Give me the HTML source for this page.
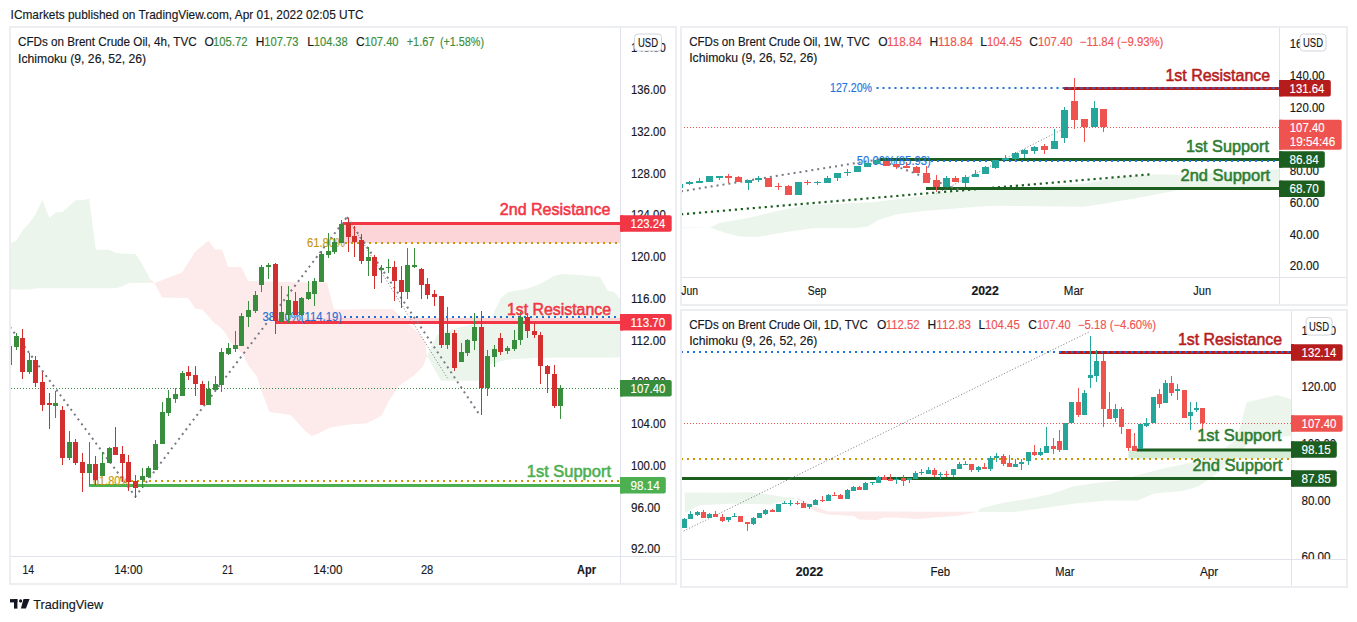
<!DOCTYPE html>
<html><head><meta charset="utf-8"><style>
html,body{margin:0;padding:0;background:#fff;}
svg{display:block;font-family:"Liberation Sans", sans-serif;}
</style></head><body>
<svg width="1357" height="622" viewBox="0 0 1357 622">
<defs>
<clipPath id="cL"><rect x="11" y="28" width="609" height="528"/></clipPath>
<clipPath id="cTR"><rect x="682" y="28" width="597" height="249"/></clipPath>
<clipPath id="cBR"><rect x="682" y="311" width="609" height="248"/></clipPath>
<clipPath id="aL"><rect x="621" y="28" width="54" height="528"/></clipPath>
<clipPath id="aTR"><rect x="1280" y="28" width="66" height="249"/></clipPath>
<clipPath id="aBR"><rect x="1292" y="311" width="54" height="248"/></clipPath>
</defs>
<rect x="0" y="0" width="1357" height="622" fill="#ffffff" />
<rect x="10" y="27" width="666" height="557" fill="none" stroke="#eceef2" stroke-width="2"/>
<line x1="620.5" y1="28" x2="620.5" y2="583" stroke="#e0e3eb" stroke-width="1" />
<line x1="11" y1="556.5" x2="675" y2="556.5" stroke="#e0e3eb" stroke-width="1" />
<rect x="681" y="27" width="666" height="278" fill="none" stroke="#eceef2" stroke-width="2"/>
<line x1="1279.5" y1="28" x2="1279.5" y2="304" stroke="#e0e3eb" stroke-width="1" />
<line x1="682" y1="277.5" x2="1346" y2="277.5" stroke="#e0e3eb" stroke-width="1" />
<rect x="681" y="310" width="666" height="277" fill="none" stroke="#eceef2" stroke-width="2"/>
<line x1="1291.5" y1="311" x2="1291.5" y2="586" stroke="#e0e3eb" stroke-width="1" />
<line x1="682" y1="559.5" x2="1346" y2="559.5" stroke="#e0e3eb" stroke-width="1" />
<g clip-path="url(#cL)">
<polygon points="10,243.9 16.2,240.4 22.4,230.7 29.5,222.7 35.6,213.9 42.4,199.7 49.3,217.9 56.3,212.1 62.5,212.1 69.2,205.9 75.8,200.3 82.5,200.3 89.2,198.8 95.8,249.8 109,249.8 115.6,252.8 122.3,253.7 135.6,254 142.3,264.3 148.8,276.3 149.5,278.5 149.5,282.9 128.9,282.9 122.3,286.4 115.6,288.2 35.6,288.2 29.5,289.4 10,289.4" fill="#ebf5ec" />
<polygon points="149.5,278.5 154.6,283 149.5,283" fill="#fdeaea" />
<polygon points="154.5,283 182,272.6 195,252 208.4,240.5 215,249.5 222,249.5 228,267 241.4,267.2 248,281 327,282.7 334,309.4 393,309 406,322 417,331.5 425.5,342.3 427,356 423,366.5 413.4,376 399,385.7 389.3,400.2 382,414.7 380.7,416.3 366.7,423.3 347,424.8 330,427.6 318.8,433.2 311.8,436 304.8,430.4 290.7,414.9 269.6,412.1 262.5,393.8 257,376.9 248.5,365.7 242.9,354.4 231.6,343.2 224.6,331.9 219.4,326.4 214.3,323 202.5,309.5 195.7,309 188.1,298 162,297.6" fill="#fdeaea" />
<polygon points="427,356 437,335 450,330 473,324 490,322 494,312 501,298 508,292 526,289 540,284 554,276 561,274 580,275 600,277 608,291 614,292 621,300 621,357.6 540,357.8 508,359.5 487,365 478,380.7 441,380.7" fill="#ebf5ec" />
<rect x="343" y="225" width="277" height="18" fill="#fcd5d8" />
<rect x="275" y="318" width="345" height="3" fill="#fcd5d8" />
<rect x="343" y="222" width="277" height="3" fill="#f23645" />
<rect x="275" y="321" width="345" height="3" fill="#f23645" />
<rect x="89" y="484" width="531" height="3" fill="#4caf50" />
<line x1="11" y1="388.5" x2="620" y2="388.5" stroke="#388e3c" stroke-width="1" stroke-dasharray="1 2" />
<line x1="345" y1="243" x2="620" y2="243" stroke="#c8960a" stroke-width="2" stroke-dasharray="2 4" />
<line x1="131" y1="481" x2="620" y2="481" stroke="#c8960a" stroke-width="2" stroke-dasharray="2 4" />
<line x1="344" y1="317" x2="620" y2="317" stroke="#1f6fd6" stroke-width="2" stroke-dasharray="2 4" />
<line x1="10" y1="327" x2="135" y2="496" stroke="#787b86" stroke-width="2" stroke-dasharray="2 4" />
<line x1="135" y1="497" x2="347" y2="217" stroke="#787b86" stroke-width="2" stroke-dasharray="2 4" />
<line x1="347" y1="217" x2="448" y2="379" stroke="#787b86" stroke-width="1" stroke-dasharray="1 2" />
<line x1="347" y1="217" x2="479" y2="414" stroke="#787b86" stroke-width="2" stroke-dasharray="2 4" />
<text x="307" y="247.3" font-size="12" fill="#c8960a" stroke="#c8960a" stroke-width="0.15" textLength="38" lengthAdjust="spacingAndGlyphs" >61.80%</text>
<text x="93" y="485.3" font-size="12" fill="#c8960a" stroke="#c8960a" stroke-width="0.15" textLength="37" lengthAdjust="spacingAndGlyphs" >61.80%</text>
<text x="262.4" y="320.8" font-size="12.3" fill="#1f6fd6" stroke="#1f6fd6" stroke-width="0.15" textLength="79.6" lengthAdjust="spacingAndGlyphs" >38.20%(114.19)</text>
<rect x="9" y="344" width="1" height="22" fill="#388e3c" />
<rect x="7" y="346" width="5" height="19" fill="#388e3c" />
<rect x="16" y="333" width="1" height="17" fill="#388e3c" />
<rect x="14" y="336" width="5" height="11" fill="#388e3c" />
<rect x="22" y="329" width="1" height="50" fill="#d32f2f" />
<rect x="20" y="338" width="5" height="34" fill="#d32f2f" />
<rect x="29" y="353" width="1" height="21" fill="#388e3c" />
<rect x="27" y="360" width="5" height="12" fill="#388e3c" />
<rect x="35" y="356" width="1" height="31" fill="#d32f2f" />
<rect x="33" y="360" width="5" height="23" fill="#d32f2f" />
<rect x="42" y="372" width="1" height="39" fill="#d32f2f" />
<rect x="40" y="382" width="5" height="23" fill="#d32f2f" />
<rect x="49" y="393" width="1" height="36" fill="#d32f2f" />
<rect x="47" y="403" width="5" height="2" fill="#d32f2f" />
<rect x="55" y="391" width="1" height="27" fill="#388e3c" />
<rect x="53" y="403" width="5" height="3" fill="#388e3c" />
<rect x="62" y="406" width="1" height="59" fill="#d32f2f" />
<rect x="60" y="410" width="5" height="48" fill="#d32f2f" />
<rect x="69" y="431" width="1" height="29" fill="#388e3c" />
<rect x="67" y="442" width="5" height="16" fill="#388e3c" />
<rect x="75" y="439" width="1" height="26" fill="#d32f2f" />
<rect x="73" y="442" width="5" height="21" fill="#d32f2f" />
<rect x="82" y="453" width="1" height="39" fill="#d32f2f" />
<rect x="80" y="462" width="5" height="11" fill="#d32f2f" />
<rect x="89" y="442" width="1" height="43" fill="#388e3c" />
<rect x="87" y="464" width="5" height="9" fill="#388e3c" />
<rect x="95" y="456" width="1" height="29" fill="#d32f2f" />
<rect x="93" y="464" width="5" height="16" fill="#d32f2f" />
<rect x="102" y="452" width="1" height="24" fill="#388e3c" />
<rect x="100" y="463" width="5" height="13" fill="#388e3c" />
<rect x="109" y="447" width="1" height="16" fill="#388e3c" />
<rect x="107" y="448" width="5" height="15" fill="#388e3c" />
<rect x="115" y="427" width="1" height="28" fill="#d32f2f" />
<rect x="113" y="447" width="5" height="8" fill="#d32f2f" />
<rect x="122" y="446" width="1" height="36" fill="#d32f2f" />
<rect x="120" y="454" width="5" height="9" fill="#d32f2f" />
<rect x="128" y="455" width="1" height="36" fill="#d32f2f" />
<rect x="126" y="462" width="5" height="20" fill="#d32f2f" />
<rect x="135" y="475" width="1" height="23" fill="#d32f2f" />
<rect x="133" y="481" width="5" height="7" fill="#d32f2f" />
<rect x="142" y="468" width="1" height="20" fill="#388e3c" />
<rect x="140" y="476" width="5" height="4" fill="#388e3c" />
<rect x="148" y="466" width="1" height="12" fill="#388e3c" />
<rect x="146" y="468" width="5" height="9" fill="#388e3c" />
<rect x="155" y="440" width="1" height="30" fill="#388e3c" />
<rect x="153" y="444" width="5" height="26" fill="#388e3c" />
<rect x="162" y="402" width="1" height="42" fill="#388e3c" />
<rect x="160" y="412" width="5" height="32" fill="#388e3c" />
<rect x="168" y="390" width="1" height="26" fill="#388e3c" />
<rect x="166" y="398" width="5" height="15" fill="#388e3c" />
<rect x="175" y="388" width="1" height="15" fill="#388e3c" />
<rect x="173" y="394" width="5" height="5" fill="#388e3c" />
<rect x="182" y="371" width="1" height="25" fill="#388e3c" />
<rect x="180" y="373" width="5" height="23" fill="#388e3c" />
<rect x="188" y="366" width="1" height="14" fill="#d32f2f" />
<rect x="186" y="372" width="5" height="4" fill="#d32f2f" />
<rect x="195" y="366" width="1" height="30" fill="#d32f2f" />
<rect x="193" y="375" width="5" height="9" fill="#d32f2f" />
<rect x="202" y="381" width="1" height="24" fill="#d32f2f" />
<rect x="200" y="384" width="5" height="21" fill="#d32f2f" />
<rect x="208" y="381" width="1" height="24" fill="#388e3c" />
<rect x="206" y="389" width="5" height="16" fill="#388e3c" />
<rect x="215" y="376" width="1" height="14" fill="#388e3c" />
<rect x="213" y="384" width="5" height="6" fill="#388e3c" />
<rect x="221" y="348" width="1" height="44" fill="#388e3c" />
<rect x="219" y="352" width="5" height="33" fill="#388e3c" />
<rect x="228" y="343" width="1" height="12" fill="#388e3c" />
<rect x="226" y="348" width="5" height="6" fill="#388e3c" />
<rect x="235" y="331" width="1" height="21" fill="#388e3c" />
<rect x="233" y="345" width="5" height="4" fill="#388e3c" />
<rect x="241" y="313" width="1" height="33" fill="#388e3c" />
<rect x="239" y="316" width="5" height="30" fill="#388e3c" />
<rect x="248" y="301" width="1" height="26" fill="#388e3c" />
<rect x="246" y="310" width="5" height="7" fill="#388e3c" />
<rect x="255" y="291" width="1" height="22" fill="#388e3c" />
<rect x="253" y="295" width="5" height="16" fill="#388e3c" />
<rect x="261" y="265" width="1" height="27" fill="#388e3c" />
<rect x="259" y="267" width="5" height="18" fill="#388e3c" />
<rect x="268" y="263" width="1" height="16" fill="#388e3c" />
<rect x="266" y="265" width="5" height="2" fill="#388e3c" />
<rect x="275" y="263" width="1" height="71" fill="#d32f2f" />
<rect x="273" y="264" width="5" height="57" fill="#d32f2f" />
<rect x="281" y="286" width="1" height="36" fill="#388e3c" />
<rect x="279" y="312" width="5" height="10" fill="#388e3c" />
<rect x="288" y="286" width="1" height="37" fill="#388e3c" />
<rect x="286" y="300" width="5" height="15" fill="#388e3c" />
<rect x="295" y="292" width="1" height="23" fill="#d32f2f" />
<rect x="293" y="301" width="5" height="14" fill="#d32f2f" />
<rect x="301" y="297" width="1" height="19" fill="#388e3c" />
<rect x="299" y="298" width="5" height="17" fill="#388e3c" />
<rect x="308" y="281" width="1" height="19" fill="#388e3c" />
<rect x="306" y="292" width="5" height="7" fill="#388e3c" />
<rect x="314" y="278" width="1" height="28" fill="#388e3c" />
<rect x="312" y="281" width="5" height="13" fill="#388e3c" />
<rect x="321" y="251" width="1" height="31" fill="#388e3c" />
<rect x="319" y="254" width="5" height="28" fill="#388e3c" />
<rect x="328" y="233" width="1" height="25" fill="#388e3c" />
<rect x="326" y="251" width="5" height="4" fill="#388e3c" />
<rect x="334" y="238" width="1" height="16" fill="#388e3c" />
<rect x="332" y="242" width="5" height="10" fill="#388e3c" />
<rect x="341" y="220" width="1" height="23" fill="#388e3c" />
<rect x="339" y="224" width="5" height="19" fill="#388e3c" />
<rect x="348" y="218" width="1" height="34" fill="#d32f2f" />
<rect x="346" y="223" width="5" height="14" fill="#d32f2f" />
<rect x="354" y="226" width="1" height="31" fill="#d32f2f" />
<rect x="352" y="236" width="5" height="6" fill="#d32f2f" />
<rect x="361" y="234" width="1" height="30" fill="#d32f2f" />
<rect x="359" y="240" width="5" height="21" fill="#d32f2f" />
<rect x="368" y="247" width="1" height="29" fill="#388e3c" />
<rect x="366" y="257" width="5" height="4" fill="#388e3c" />
<rect x="374" y="255" width="1" height="34" fill="#d32f2f" />
<rect x="372" y="257" width="5" height="19" fill="#d32f2f" />
<rect x="381" y="265" width="1" height="18" fill="#388e3c" />
<rect x="379" y="268" width="5" height="2" fill="#388e3c" />
<rect x="388" y="259" width="1" height="14" fill="#388e3c" />
<rect x="386" y="267" width="5" height="1" fill="#388e3c" />
<rect x="394" y="261" width="1" height="40" fill="#d32f2f" />
<rect x="392" y="267" width="5" height="14" fill="#d32f2f" />
<rect x="401" y="266" width="1" height="42" fill="#d32f2f" />
<rect x="399" y="280" width="5" height="12" fill="#d32f2f" />
<rect x="407" y="248" width="1" height="51" fill="#388e3c" />
<rect x="405" y="265" width="5" height="27" fill="#388e3c" />
<rect x="414" y="248" width="1" height="20" fill="#388e3c" />
<rect x="412" y="265" width="5" height="2" fill="#388e3c" />
<rect x="421" y="268" width="1" height="31" fill="#d32f2f" />
<rect x="419" y="269" width="5" height="16" fill="#d32f2f" />
<rect x="427" y="278" width="1" height="21" fill="#d32f2f" />
<rect x="425" y="284" width="5" height="11" fill="#d32f2f" />
<rect x="434" y="290" width="1" height="16" fill="#d32f2f" />
<rect x="432" y="294" width="5" height="3" fill="#d32f2f" />
<rect x="441" y="296" width="1" height="52" fill="#d32f2f" />
<rect x="439" y="296" width="5" height="49" fill="#d32f2f" />
<rect x="447" y="307" width="1" height="42" fill="#388e3c" />
<rect x="445" y="333" width="5" height="12" fill="#388e3c" />
<rect x="454" y="330" width="1" height="41" fill="#d32f2f" />
<rect x="452" y="333" width="5" height="35" fill="#d32f2f" />
<rect x="461" y="343" width="1" height="19" fill="#388e3c" />
<rect x="459" y="352" width="5" height="10" fill="#388e3c" />
<rect x="467" y="339" width="1" height="17" fill="#388e3c" />
<rect x="465" y="340" width="5" height="13" fill="#388e3c" />
<rect x="474" y="313" width="1" height="37" fill="#388e3c" />
<rect x="472" y="327" width="5" height="14" fill="#388e3c" />
<rect x="481" y="311" width="1" height="104" fill="#d32f2f" />
<rect x="479" y="327" width="5" height="61" fill="#d32f2f" />
<rect x="487" y="350" width="1" height="46" fill="#388e3c" />
<rect x="485" y="356" width="5" height="32" fill="#388e3c" />
<rect x="494" y="345" width="1" height="22" fill="#388e3c" />
<rect x="492" y="349" width="5" height="8" fill="#388e3c" />
<rect x="500" y="333" width="1" height="22" fill="#d32f2f" />
<rect x="498" y="338" width="5" height="14" fill="#d32f2f" />
<rect x="507" y="346" width="1" height="8" fill="#388e3c" />
<rect x="505" y="348" width="5" height="3" fill="#388e3c" />
<rect x="514" y="330" width="1" height="21" fill="#388e3c" />
<rect x="512" y="340" width="5" height="9" fill="#388e3c" />
<rect x="520" y="312" width="1" height="33" fill="#388e3c" />
<rect x="518" y="317" width="5" height="23" fill="#388e3c" />
<rect x="527" y="313" width="1" height="25" fill="#d32f2f" />
<rect x="525" y="317" width="5" height="14" fill="#d32f2f" />
<rect x="534" y="323" width="1" height="15" fill="#d32f2f" />
<rect x="532" y="331" width="5" height="4" fill="#d32f2f" />
<rect x="540" y="332" width="1" height="52" fill="#d32f2f" />
<rect x="538" y="335" width="5" height="31" fill="#d32f2f" />
<rect x="547" y="365" width="1" height="28" fill="#d32f2f" />
<rect x="545" y="366" width="5" height="8" fill="#d32f2f" />
<rect x="554" y="365" width="1" height="43" fill="#d32f2f" />
<rect x="552" y="374" width="5" height="32" fill="#d32f2f" />
<rect x="560" y="385" width="1" height="34" fill="#388e3c" />
<rect x="558" y="388" width="5" height="18" fill="#388e3c" />
<text x="499.8" y="214.7" font-size="16" fill="#f23645" stroke="#f23645" stroke-width="0.55" textLength="110.6" lengthAdjust="spacingAndGlyphs" >2nd Resistance</text>
<text x="507" y="315" font-size="16" fill="#f23645" stroke="#f23645" stroke-width="0.55" textLength="104" lengthAdjust="spacingAndGlyphs" >1st Resistance</text>
<text x="526.8" y="477" font-size="16.3" fill="#4caf50" stroke="#4caf50" stroke-width="0.55" textLength="84.2" lengthAdjust="spacingAndGlyphs" >1st Support</text>
</g>
<text x="18" y="45.9" font-size="12" fill="#131722" stroke="#131722" stroke-width="0.15" textLength="178.6" lengthAdjust="spacingAndGlyphs" >CFDs on Brent Crude Oil, 4h, TVC</text>
<text x="204.4" y="45.9" font-size="12" fill="#131722" stroke="#131722" stroke-width="0.15" >O</text>
<text x="213" y="45.9" font-size="12" fill="#388e3c" stroke="#388e3c" stroke-width="0.15" textLength="34.5" lengthAdjust="spacingAndGlyphs" >105.72</text>
<text x="255.7" y="45.9" font-size="12" fill="#131722" stroke="#131722" stroke-width="0.15" >H</text>
<text x="264.3" y="45.9" font-size="12" fill="#388e3c" stroke="#388e3c" stroke-width="0.15" textLength="34.1" lengthAdjust="spacingAndGlyphs" >107.73</text>
<text x="307.2" y="45.9" font-size="12" fill="#131722" stroke="#131722" stroke-width="0.15" >L</text>
<text x="313.8" y="45.9" font-size="12" fill="#388e3c" stroke="#388e3c" stroke-width="0.15" textLength="33.9" lengthAdjust="spacingAndGlyphs" >104.38</text>
<text x="355.9" y="45.9" font-size="12" fill="#131722" stroke="#131722" stroke-width="0.15" >C</text>
<text x="364.5" y="45.9" font-size="12" fill="#388e3c" stroke="#388e3c" stroke-width="0.15" textLength="34" lengthAdjust="spacingAndGlyphs" >107.40</text>
<text x="406.7" y="45.9" font-size="12" fill="#388e3c" stroke="#388e3c" stroke-width="0.15" textLength="27.7" lengthAdjust="spacingAndGlyphs" >+1.67</text>
<text x="439.9" y="45.9" font-size="12" fill="#388e3c" stroke="#388e3c" stroke-width="0.15" textLength="44.2" lengthAdjust="spacingAndGlyphs" >(+1.58%)</text>
<text x="18" y="62.7" font-size="12" fill="#131722" stroke="#131722" stroke-width="0.15" textLength="128.2" lengthAdjust="spacingAndGlyphs" >Ichimoku (9, 26, 52, 26)</text>
<g clip-path="url(#aL)">
<text x="631" y="52.29" font-size="12.5" fill="#131722" stroke="#131722" stroke-width="0.15" textLength="34.7" lengthAdjust="spacingAndGlyphs" >140.00</text>
<text x="631" y="94.05" font-size="12.5" fill="#131722" stroke="#131722" stroke-width="0.15" textLength="34.7" lengthAdjust="spacingAndGlyphs" >136.00</text>
<text x="631" y="135.81" font-size="12.5" fill="#131722" stroke="#131722" stroke-width="0.15" textLength="34.7" lengthAdjust="spacingAndGlyphs" >132.00</text>
<text x="631" y="177.57" font-size="12.5" fill="#131722" stroke="#131722" stroke-width="0.15" textLength="34.7" lengthAdjust="spacingAndGlyphs" >128.00</text>
<text x="631" y="219.33" font-size="12.5" fill="#131722" stroke="#131722" stroke-width="0.15" textLength="34.7" lengthAdjust="spacingAndGlyphs" >124.00</text>
<text x="631" y="261.09" font-size="12.5" fill="#131722" stroke="#131722" stroke-width="0.15" textLength="34.7" lengthAdjust="spacingAndGlyphs" >120.00</text>
<text x="631" y="302.85" font-size="12.5" fill="#131722" stroke="#131722" stroke-width="0.15" textLength="34.7" lengthAdjust="spacingAndGlyphs" >116.00</text>
<text x="631" y="344.61" font-size="12.5" fill="#131722" stroke="#131722" stroke-width="0.15" textLength="34.7" lengthAdjust="spacingAndGlyphs" >112.00</text>
<text x="631" y="386.37" font-size="12.5" fill="#131722" stroke="#131722" stroke-width="0.15" textLength="34.7" lengthAdjust="spacingAndGlyphs" >108.00</text>
<text x="631" y="428.13" font-size="12.5" fill="#131722" stroke="#131722" stroke-width="0.15" textLength="34.7" lengthAdjust="spacingAndGlyphs" >104.00</text>
<text x="631" y="469.89" font-size="12.5" fill="#131722" stroke="#131722" stroke-width="0.15" textLength="34.7" lengthAdjust="spacingAndGlyphs" >100.00</text>
<text x="631" y="511.65" font-size="12.5" fill="#131722" stroke="#131722" stroke-width="0.15" textLength="29.2" lengthAdjust="spacingAndGlyphs" >96.00</text>
<text x="631" y="553.41" font-size="12.5" fill="#131722" stroke="#131722" stroke-width="0.15" textLength="29.2" lengthAdjust="spacingAndGlyphs" >92.00</text>
</g>
<rect x="620" y="215.25" width="51.7" height="16.5" fill="#f23645" rx="2"/>
<rect x="620" y="215.25" width="3" height="16.5" fill="#f23645" />
<text x="630.6" y="227.9" font-size="12.5" fill="#ffffff" stroke="#ffffff" stroke-width="0.15" textLength="34.7" lengthAdjust="spacingAndGlyphs" >123.24</text>
<rect x="620" y="314.05" width="51.7" height="16.5" fill="#f23645" rx="2"/>
<rect x="620" y="314.05" width="3" height="16.5" fill="#f23645" />
<text x="630.6" y="326.7" font-size="12.5" fill="#ffffff" stroke="#ffffff" stroke-width="0.15" textLength="34.7" lengthAdjust="spacingAndGlyphs" >113.70</text>
<rect x="620" y="380.05" width="51.7" height="16.5" fill="#388e3c" rx="2"/>
<rect x="620" y="380.05" width="3" height="16.5" fill="#388e3c" />
<text x="630.6" y="392.7" font-size="12.5" fill="#ffffff" stroke="#ffffff" stroke-width="0.15" textLength="34.7" lengthAdjust="spacingAndGlyphs" >107.40</text>
<rect x="620" y="477.05" width="45.8" height="16.5" fill="#4caf50" rx="2"/>
<rect x="620" y="477.05" width="3" height="16.5" fill="#4caf50" />
<text x="630.6" y="489.7" font-size="12.5" fill="#ffffff" stroke="#ffffff" stroke-width="0.15" textLength="29.2" lengthAdjust="spacingAndGlyphs" >98.14</text>
<text x="22.5" y="574.4" font-size="12" fill="#131722" stroke="#131722" stroke-width="0.15" textLength="11.6" lengthAdjust="spacingAndGlyphs" >14</text>
<text x="114.2" y="574.4" font-size="12" fill="#131722" stroke="#131722" stroke-width="0.15" textLength="28.5" lengthAdjust="spacingAndGlyphs" >14:00</text>
<text x="222.3" y="574.4" font-size="12" fill="#131722" stroke="#131722" stroke-width="0.15" textLength="10.9" lengthAdjust="spacingAndGlyphs" >21</text>
<text x="313.3" y="574.4" font-size="12" fill="#131722" stroke="#131722" stroke-width="0.15" textLength="29.2" lengthAdjust="spacingAndGlyphs" >14:00</text>
<text x="420.9" y="574.4" font-size="12" fill="#131722" stroke="#131722" stroke-width="0.15" textLength="12.4" lengthAdjust="spacingAndGlyphs" >28</text>
<text x="577.1" y="574.4" font-size="12" fill="#131722" stroke="#131722" stroke-width="0.15" textLength="18.9" lengthAdjust="spacingAndGlyphs" font-weight="bold" >Apr</text>
<g clip-path="url(#cTR)">
<polygon points="682,227.6 684.4,227.6 709.8,227.5 719.8,223.1 737.5,219.8 750.8,217.6 772.9,212.1 803.8,205.4 834.8,203.9 874.6,202.1 918.8,196.6 956.4,191.1 980,188.8 1000,188.9 1084,183.6 1117.6,177.3 1157.5,174.2 1178.5,174.8 1210,173.1 1252,172.1 1280,168.9 1280,187.8 1178.5,189.9 1147,196.2 1105,203.6 1084,206.7 1000,205.7 980,206.5 923.2,211 896.7,214.3 879,219.8 867.9,226.4 852.5,228.2 812.7,228.2 786.1,232 757.4,237 739.7,236.6 724.2,232.6 709.8,227.5 684.4,228.2 682,228.2" fill="#ebf5ec" />
<rect x="1064" y="87" width="215" height="3" fill="#b71c1c" />
<rect x="880" y="158" width="399" height="3" fill="#1b5e20" />
<rect x="926" y="187" width="353" height="3" fill="#1b5e20" />
<line x1="681" y1="127.5" x2="1279" y2="127.5" stroke="#ef5350" stroke-width="1" stroke-dasharray="1 2" />
<line x1="876.5" y1="88" x2="1279" y2="88" stroke="#1e73e0" stroke-width="2" stroke-dasharray="2 4" />
<line x1="931" y1="160.9" x2="1279" y2="160.9" stroke="#1e73e0" stroke-width="2" stroke-dasharray="2 4" />
<line x1="681" y1="214.3" x2="1149.7" y2="174.4" stroke="#1b5e20" stroke-width="2.2" stroke-dasharray="2.2 3.8" />
<line x1="681" y1="191.4" x2="878" y2="159.5" stroke="#787b86" stroke-width="2" stroke-dasharray="2 4" />
<line x1="878" y1="159.5" x2="962" y2="191" stroke="#787b86" stroke-width="2" stroke-dasharray="2 4" />
<line x1="936.6" y1="193.5" x2="1062" y2="129.6" stroke="#787b86" stroke-width="1" stroke-dasharray="1 2" />
<text x="830" y="92.3" font-size="12.3" fill="#1e73e0" stroke="#1e73e0" stroke-width="0.15" textLength="42.1" lengthAdjust="spacingAndGlyphs" >127.20%</text>
<text x="856.7" y="164.8" font-size="12.3" fill="#1e73e0" stroke="#1e73e0" stroke-width="0.15" textLength="74.2" lengthAdjust="spacingAndGlyphs" >50.00%(85.93)</text>
<rect x="679" y="183" width="1" height="6" fill="#26a69a" />
<rect x="676" y="184" width="7" height="4" fill="#26a69a" />
<rect x="689" y="181" width="1" height="4" fill="#26a69a" />
<rect x="686" y="182" width="7" height="2" fill="#26a69a" />
<rect x="699" y="178" width="1" height="5" fill="#26a69a" />
<rect x="696" y="181" width="7" height="2" fill="#26a69a" />
<rect x="709" y="176" width="1" height="6" fill="#26a69a" />
<rect x="706" y="176" width="7" height="6" fill="#26a69a" />
<rect x="719" y="176" width="1" height="4" fill="#26a69a" />
<rect x="716" y="176" width="7" height="2" fill="#26a69a" />
<rect x="728" y="174" width="1" height="9" fill="#ef5350" />
<rect x="725" y="176" width="7" height="2" fill="#ef5350" />
<rect x="738" y="176" width="1" height="6" fill="#ef5350" />
<rect x="735" y="177" width="7" height="5" fill="#ef5350" />
<rect x="748" y="180" width="1" height="10" fill="#26a69a" />
<rect x="745" y="180" width="7" height="3" fill="#26a69a" />
<rect x="758" y="176" width="1" height="6" fill="#26a69a" />
<rect x="755" y="178" width="7" height="2" fill="#26a69a" />
<rect x="768" y="178" width="1" height="9" fill="#ef5350" />
<rect x="765" y="178" width="7" height="9" fill="#ef5350" />
<rect x="778" y="183" width="1" height="7" fill="#ef5350" />
<rect x="775" y="186" width="7" height="1" fill="#ef5350" />
<rect x="788" y="185" width="1" height="10" fill="#ef5350" />
<rect x="785" y="186" width="7" height="9" fill="#ef5350" />
<rect x="798" y="182" width="1" height="13" fill="#26a69a" />
<rect x="795" y="182" width="7" height="13" fill="#26a69a" />
<rect x="807" y="180" width="1" height="5" fill="#ef5350" />
<rect x="804" y="182" width="7" height="1" fill="#ef5350" />
<rect x="817" y="181" width="1" height="4" fill="#26a69a" />
<rect x="814" y="182" width="7" height="1" fill="#26a69a" />
<rect x="827" y="176" width="1" height="7" fill="#26a69a" />
<rect x="824" y="178" width="7" height="5" fill="#26a69a" />
<rect x="837" y="173" width="1" height="8" fill="#26a69a" />
<rect x="834" y="173" width="7" height="5" fill="#26a69a" />
<rect x="847" y="169" width="1" height="7" fill="#26a69a" />
<rect x="844" y="172" width="7" height="1" fill="#26a69a" />
<rect x="857" y="166" width="1" height="6" fill="#26a69a" />
<rect x="854" y="166" width="7" height="6" fill="#26a69a" />
<rect x="867" y="163" width="1" height="4" fill="#26a69a" />
<rect x="864" y="163" width="7" height="4" fill="#26a69a" />
<rect x="876" y="160" width="1" height="4" fill="#26a69a" />
<rect x="873" y="160" width="7" height="4" fill="#26a69a" />
<rect x="886" y="161" width="1" height="5" fill="#ef5350" />
<rect x="883" y="161" width="7" height="5" fill="#ef5350" />
<rect x="896" y="164" width="1" height="5" fill="#ef5350" />
<rect x="893" y="164" width="7" height="3" fill="#ef5350" />
<rect x="906" y="162" width="1" height="6" fill="#ef5350" />
<rect x="903" y="166" width="7" height="2" fill="#ef5350" />
<rect x="916" y="166" width="1" height="7" fill="#ef5350" />
<rect x="913" y="167" width="7" height="6" fill="#ef5350" />
<rect x="926" y="166" width="1" height="17" fill="#ef5350" />
<rect x="923" y="173" width="7" height="10" fill="#ef5350" />
<rect x="936" y="175" width="1" height="17" fill="#ef5350" />
<rect x="933" y="180" width="7" height="7" fill="#ef5350" />
<rect x="946" y="176" width="1" height="11" fill="#26a69a" />
<rect x="943" y="178" width="7" height="9" fill="#26a69a" />
<rect x="955" y="176" width="1" height="6" fill="#ef5350" />
<rect x="952" y="178" width="7" height="4" fill="#ef5350" />
<rect x="965" y="175" width="1" height="12" fill="#26a69a" />
<rect x="962" y="177" width="7" height="6" fill="#26a69a" />
<rect x="975" y="170" width="1" height="7" fill="#26a69a" />
<rect x="972" y="174" width="7" height="3" fill="#26a69a" />
<rect x="985" y="166" width="1" height="8" fill="#26a69a" />
<rect x="982" y="167" width="7" height="7" fill="#26a69a" />
<rect x="995" y="160" width="1" height="9" fill="#26a69a" />
<rect x="992" y="160" width="7" height="8" fill="#26a69a" />
<rect x="1005" y="155" width="1" height="5" fill="#26a69a" />
<rect x="1002" y="158" width="7" height="2" fill="#26a69a" />
<rect x="1015" y="152" width="1" height="9" fill="#26a69a" />
<rect x="1012" y="153" width="7" height="6" fill="#26a69a" />
<rect x="1024" y="149" width="1" height="9" fill="#26a69a" />
<rect x="1021" y="150" width="7" height="4" fill="#26a69a" />
<rect x="1034" y="146" width="1" height="8" fill="#26a69a" />
<rect x="1031" y="147" width="7" height="4" fill="#26a69a" />
<rect x="1044" y="144" width="1" height="10" fill="#ef5350" />
<rect x="1041" y="146" width="7" height="4" fill="#ef5350" />
<rect x="1054" y="129" width="1" height="20" fill="#26a69a" />
<rect x="1051" y="141" width="7" height="8" fill="#26a69a" />
<rect x="1064" y="107" width="1" height="36" fill="#26a69a" />
<rect x="1061" y="110" width="7" height="28" fill="#26a69a" />
<rect x="1074" y="78" width="1" height="51" fill="#ef5350" />
<rect x="1071" y="101" width="7" height="19" fill="#ef5350" />
<rect x="1084" y="119" width="1" height="23" fill="#ef5350" />
<rect x="1081" y="119" width="7" height="8" fill="#ef5350" />
<rect x="1094" y="101" width="1" height="26" fill="#26a69a" />
<rect x="1091" y="108" width="7" height="19" fill="#26a69a" />
<rect x="1103" y="109" width="1" height="23" fill="#ef5350" />
<rect x="1100" y="109" width="7" height="18" fill="#ef5350" />
<text x="1165.4" y="81.2" font-size="16.5" fill="#b71c1c" stroke="#b71c1c" stroke-width="0.55" textLength="104.8" lengthAdjust="spacingAndGlyphs" >1st Resistance</text>
<text x="1185.9" y="152.1" font-size="16.5" fill="#2e7d32" stroke="#2e7d32" stroke-width="0.55" textLength="83.1" lengthAdjust="spacingAndGlyphs" >1st Support</text>
<text x="1180.5" y="180.5" font-size="16.5" fill="#2e7d32" stroke="#2e7d32" stroke-width="0.55" textLength="89.7" lengthAdjust="spacingAndGlyphs" >2nd Support</text>
</g>
<text x="689.2" y="45.7" font-size="12" fill="#131722" stroke="#131722" stroke-width="0.15" textLength="180.6" lengthAdjust="spacingAndGlyphs" >CFDs on Brent Crude Oil, 1W, TVC</text>
<text x="878.2" y="45.7" font-size="12" fill="#131722" stroke="#131722" stroke-width="0.15" >O</text>
<text x="887" y="45.7" font-size="12" fill="#ef5350" stroke="#ef5350" stroke-width="0.15" textLength="35" lengthAdjust="spacingAndGlyphs" >118.84</text>
<text x="929.4" y="45.7" font-size="12" fill="#131722" stroke="#131722" stroke-width="0.15" >H</text>
<text x="938" y="45.7" font-size="12" fill="#ef5350" stroke="#ef5350" stroke-width="0.15" textLength="35" lengthAdjust="spacingAndGlyphs" >118.84</text>
<text x="980.3" y="45.7" font-size="12" fill="#131722" stroke="#131722" stroke-width="0.15" >L</text>
<text x="987" y="45.7" font-size="12" fill="#ef5350" stroke="#ef5350" stroke-width="0.15" textLength="34.9" lengthAdjust="spacingAndGlyphs" >104.45</text>
<text x="1029.3" y="45.7" font-size="12" fill="#131722" stroke="#131722" stroke-width="0.15" >C</text>
<text x="1038" y="45.7" font-size="12" fill="#ef5350" stroke="#ef5350" stroke-width="0.15" textLength="34.4" lengthAdjust="spacingAndGlyphs" >107.40</text>
<text x="1079.8" y="45.7" font-size="12" fill="#ef5350" stroke="#ef5350" stroke-width="0.15" textLength="83.6" lengthAdjust="spacingAndGlyphs" >−11.84 (−9.93%)</text>
<text x="689.2" y="61.9" font-size="12" fill="#131722" stroke="#131722" stroke-width="0.15" textLength="128.2" lengthAdjust="spacingAndGlyphs" >Ichimoku (9, 26, 52, 26)</text>
<g clip-path="url(#aTR)">
<text x="1289.8" y="48.1" font-size="12.5" fill="#131722" stroke="#131722" stroke-width="0.15" textLength="34.7" lengthAdjust="spacingAndGlyphs" >160.00</text>
<text x="1289.8" y="79.85" font-size="12.5" fill="#131722" stroke="#131722" stroke-width="0.15" textLength="34.7" lengthAdjust="spacingAndGlyphs" >140.00</text>
<text x="1289.8" y="111.6" font-size="12.5" fill="#131722" stroke="#131722" stroke-width="0.15" textLength="34.7" lengthAdjust="spacingAndGlyphs" >120.00</text>
<text x="1289.8" y="143.35" font-size="12.5" fill="#131722" stroke="#131722" stroke-width="0.15" textLength="34.7" lengthAdjust="spacingAndGlyphs" >100.00</text>
<text x="1289.8" y="175.1" font-size="12.5" fill="#131722" stroke="#131722" stroke-width="0.15" textLength="29.2" lengthAdjust="spacingAndGlyphs" >80.00</text>
<text x="1289.8" y="206.85" font-size="12.5" fill="#131722" stroke="#131722" stroke-width="0.15" textLength="29.2" lengthAdjust="spacingAndGlyphs" >60.00</text>
<text x="1289.8" y="238.6" font-size="12.5" fill="#131722" stroke="#131722" stroke-width="0.15" textLength="29.2" lengthAdjust="spacingAndGlyphs" >40.00</text>
<text x="1289.8" y="270.35" font-size="12.5" fill="#131722" stroke="#131722" stroke-width="0.15" textLength="29.2" lengthAdjust="spacingAndGlyphs" >20.00</text>
</g>
<text x="681.3" y="294.6" font-size="12" fill="#131722" stroke="#131722" stroke-width="0.15" textLength="16.8" lengthAdjust="spacingAndGlyphs" >Jun</text>
<text x="807.8" y="294.6" font-size="12" fill="#131722" stroke="#131722" stroke-width="0.15" textLength="18.5" lengthAdjust="spacingAndGlyphs" >Sep</text>
<text x="971.4" y="294.6" font-size="12" fill="#131722" stroke="#131722" stroke-width="0.15" textLength="27.4" lengthAdjust="spacingAndGlyphs" font-weight="bold" >2022</text>
<text x="1063.8" y="294.6" font-size="12" fill="#131722" stroke="#131722" stroke-width="0.15" textLength="19.9" lengthAdjust="spacingAndGlyphs" >Mar</text>
<text x="1193.3" y="294.6" font-size="12" fill="#131722" stroke="#131722" stroke-width="0.15" textLength="17.7" lengthAdjust="spacingAndGlyphs" >Jun</text>
<rect x="1279" y="79.95" width="51.8" height="16.5" fill="#b71c1c" rx="2"/>
<rect x="1279" y="79.95" width="3" height="16.5" fill="#b71c1c" />
<text x="1289.6" y="92.6" font-size="12.5" fill="#ffffff" stroke="#ffffff" stroke-width="0.15" textLength="34.7" lengthAdjust="spacingAndGlyphs" >131.64</text>
<rect x="1279" y="119.7" width="62.7" height="30" fill="#ef5350" rx="2"/>
<rect x="1279" y="119.7" width="3" height="30" fill="#ef5350" />
<text x="1289.8" y="132" font-size="12.5" fill="#ffffff" stroke="#ffffff" stroke-width="0.15" textLength="34.7" lengthAdjust="spacingAndGlyphs" >107.40</text>
<text x="1289.8" y="145.6" font-size="12.5" fill="#ffffff" stroke="#ffffff" stroke-width="0.15" textLength="45.5" lengthAdjust="spacingAndGlyphs" >19:54:46</text>
<rect x="1279" y="151.25" width="45.8" height="16.5" fill="#1b5e20" rx="2"/>
<rect x="1279" y="151.25" width="3" height="16.5" fill="#1b5e20" />
<text x="1289.6" y="163.9" font-size="12.5" fill="#ffffff" stroke="#ffffff" stroke-width="0.15" textLength="29.2" lengthAdjust="spacingAndGlyphs" >86.84</text>
<rect x="1279" y="180.55" width="45.8" height="16.5" fill="#1b5e20" rx="2"/>
<rect x="1279" y="180.55" width="3" height="16.5" fill="#1b5e20" />
<text x="1289.6" y="193.2" font-size="12.5" fill="#ffffff" stroke="#ffffff" stroke-width="0.15" textLength="29.2" lengthAdjust="spacingAndGlyphs" >68.70</text>
<g clip-path="url(#cBR)">
<polygon points="684.8,492.4 718.6,492.8 750.8,492.2 770,494.7 785.5,497.3 797.1,498 770,504.4 731.5,503.7 703.3,504.9 699.3,505.3 684.8,512.9" fill="#ebf5ec" />
<polygon points="797,497.6 815.4,506.4 827.9,511.6 977.8,511.8 958.3,515.8 934,517.4 917.8,519 896.7,517.4 883.8,517.4 877.3,519.9 858.9,519.6 853.7,516 827.9,514.5 815.4,511.6 797,499" fill="#fdeaea" />
<polygon points="977.8,511.8 980,508.5 1003.2,502.7 1026.4,499.2 1049.6,494.5 1072.9,486.4 1096,483 1119.3,480.6 1142.5,473.7 1165.7,467.9 1188.9,463.2 1212.1,456.2 1223.7,449.3 1235.3,440 1240.6,425.5 1246.4,402.4 1277.3,395 1292,399.5 1292,436.1 1265.7,437.1 1250.3,442.8 1235.3,453.9 1223.7,467.9 1212.1,477.1 1198.2,486.4 1182,491.1 1154.1,493.4 1137.8,500.4 1107.7,500.4 1072.9,503.8 1049.6,507.3 1014.8,512 980,512" fill="#ebf5ec" />
<rect x="1128.5" y="450.5" width="163" height="8" fill="#d5ecd6" />
<rect x="1059" y="351" width="232" height="3" fill="#b71c1c" />
<rect x="1136.7" y="448.5" width="155" height="3" fill="#1b5e20" />
<rect x="681" y="477" width="610" height="3" fill="#1b5e20" />
<line x1="681" y1="423.5" x2="1291" y2="423.5" stroke="#ef5350" stroke-width="1" stroke-dasharray="1 2" />
<line x1="681" y1="352" x2="1291" y2="352" stroke="#1e73e0" stroke-width="2" stroke-dasharray="2 4" />
<line x1="681" y1="459" x2="1291" y2="459" stroke="#c8960a" stroke-width="2" stroke-dasharray="2 4" />
<line x1="681" y1="532.3" x2="1089" y2="332" stroke="#787b86" stroke-width="1" stroke-dasharray="1 2" />
<rect x="684" y="518" width="1" height="10" fill="#26a69a" />
<rect x="682" y="519" width="5" height="9" fill="#26a69a" />
<rect x="690" y="511" width="1" height="8" fill="#26a69a" />
<rect x="688" y="514" width="5" height="5" fill="#26a69a" />
<rect x="697" y="511" width="1" height="5" fill="#26a69a" />
<rect x="695" y="512" width="5" height="3" fill="#26a69a" />
<rect x="703" y="510" width="1" height="8" fill="#ef5350" />
<rect x="701" y="512" width="5" height="6" fill="#ef5350" />
<rect x="709" y="513" width="1" height="5" fill="#26a69a" />
<rect x="707" y="514" width="5" height="4" fill="#26a69a" />
<rect x="715" y="511" width="1" height="6" fill="#ef5350" />
<rect x="713" y="514" width="5" height="3" fill="#ef5350" />
<rect x="722" y="514" width="1" height="8" fill="#ef5350" />
<rect x="720" y="517" width="5" height="4" fill="#ef5350" />
<rect x="728" y="517" width="1" height="5" fill="#26a69a" />
<rect x="726" y="517" width="5" height="3" fill="#26a69a" />
<rect x="734" y="513" width="1" height="4" fill="#26a69a" />
<rect x="732" y="516" width="5" height="1" fill="#26a69a" />
<rect x="740" y="516" width="1" height="6" fill="#ef5350" />
<rect x="738" y="516" width="5" height="6" fill="#ef5350" />
<rect x="747" y="522" width="1" height="9" fill="#ef5350" />
<rect x="745" y="522" width="5" height="2" fill="#ef5350" />
<rect x="753" y="517" width="1" height="8" fill="#26a69a" />
<rect x="751" y="518" width="5" height="6" fill="#26a69a" />
<rect x="759" y="513" width="1" height="5" fill="#26a69a" />
<rect x="757" y="513" width="5" height="5" fill="#26a69a" />
<rect x="765" y="509" width="1" height="6" fill="#26a69a" />
<rect x="763" y="510" width="5" height="4" fill="#26a69a" />
<rect x="772" y="509" width="1" height="3" fill="#ef5350" />
<rect x="770" y="510" width="5" height="2" fill="#ef5350" />
<rect x="778" y="504" width="1" height="8" fill="#26a69a" />
<rect x="776" y="504" width="5" height="8" fill="#26a69a" />
<rect x="784" y="501" width="1" height="3" fill="#26a69a" />
<rect x="782" y="503" width="5" height="1" fill="#26a69a" />
<rect x="790" y="500" width="1" height="6" fill="#26a69a" />
<rect x="788" y="503" width="5" height="1" fill="#26a69a" />
<rect x="797" y="501" width="1" height="4" fill="#ef5350" />
<rect x="795" y="503" width="5" height="1" fill="#ef5350" />
<rect x="803" y="501" width="1" height="7" fill="#ef5350" />
<rect x="801" y="503" width="5" height="5" fill="#ef5350" />
<rect x="809" y="504" width="1" height="5" fill="#26a69a" />
<rect x="807" y="504" width="5" height="3" fill="#26a69a" />
<rect x="815" y="499" width="1" height="6" fill="#26a69a" />
<rect x="813" y="500" width="5" height="5" fill="#26a69a" />
<rect x="822" y="496" width="1" height="6" fill="#ef5350" />
<rect x="820" y="500" width="5" height="1" fill="#ef5350" />
<rect x="828" y="494" width="1" height="7" fill="#26a69a" />
<rect x="826" y="495" width="5" height="6" fill="#26a69a" />
<rect x="834" y="492" width="1" height="4" fill="#ef5350" />
<rect x="832" y="495" width="5" height="1" fill="#ef5350" />
<rect x="840" y="494" width="1" height="5" fill="#ef5350" />
<rect x="838" y="495" width="5" height="4" fill="#ef5350" />
<rect x="847" y="489" width="1" height="10" fill="#26a69a" />
<rect x="845" y="490" width="5" height="9" fill="#26a69a" />
<rect x="853" y="486" width="1" height="5" fill="#26a69a" />
<rect x="851" y="487" width="5" height="4" fill="#26a69a" />
<rect x="859" y="486" width="1" height="4" fill="#ef5350" />
<rect x="857" y="487" width="5" height="3" fill="#ef5350" />
<rect x="865" y="482" width="1" height="8" fill="#26a69a" />
<rect x="863" y="483" width="5" height="7" fill="#26a69a" />
<rect x="872" y="482" width="1" height="3" fill="#26a69a" />
<rect x="870" y="482" width="5" height="1" fill="#26a69a" />
<rect x="878" y="476" width="1" height="7" fill="#26a69a" />
<rect x="876" y="477" width="5" height="6" fill="#26a69a" />
<rect x="884" y="475" width="1" height="5" fill="#ef5350" />
<rect x="882" y="477" width="5" height="3" fill="#ef5350" />
<rect x="890" y="474" width="1" height="7" fill="#ef5350" />
<rect x="888" y="479" width="5" height="2" fill="#ef5350" />
<rect x="896" y="477" width="1" height="7" fill="#26a69a" />
<rect x="894" y="479" width="5" height="1" fill="#26a69a" />
<rect x="903" y="475" width="1" height="11" fill="#ef5350" />
<rect x="901" y="478" width="5" height="3" fill="#ef5350" />
<rect x="909" y="478" width="1" height="5" fill="#26a69a" />
<rect x="907" y="478" width="5" height="2" fill="#26a69a" />
<rect x="915" y="471" width="1" height="8" fill="#26a69a" />
<rect x="913" y="473" width="5" height="6" fill="#26a69a" />
<rect x="921" y="469" width="1" height="6" fill="#26a69a" />
<rect x="919" y="472" width="5" height="1" fill="#26a69a" />
<rect x="928" y="467" width="1" height="7" fill="#26a69a" />
<rect x="926" y="470" width="5" height="4" fill="#26a69a" />
<rect x="934" y="468" width="1" height="9" fill="#ef5350" />
<rect x="932" y="470" width="5" height="5" fill="#ef5350" />
<rect x="940" y="472" width="1" height="7" fill="#26a69a" />
<rect x="938" y="474" width="5" height="1" fill="#26a69a" />
<rect x="946" y="471" width="1" height="6" fill="#ef5350" />
<rect x="944" y="474" width="5" height="1" fill="#ef5350" />
<rect x="953" y="469" width="1" height="8" fill="#26a69a" />
<rect x="951" y="469" width="5" height="6" fill="#26a69a" />
<rect x="959" y="462" width="1" height="7" fill="#26a69a" />
<rect x="957" y="464" width="5" height="5" fill="#26a69a" />
<rect x="965" y="461" width="1" height="4" fill="#26a69a" />
<rect x="963" y="464" width="5" height="1" fill="#26a69a" />
<rect x="971" y="464" width="1" height="8" fill="#ef5350" />
<rect x="969" y="464" width="5" height="6" fill="#ef5350" />
<rect x="978" y="466" width="1" height="6" fill="#26a69a" />
<rect x="976" y="467" width="5" height="3" fill="#26a69a" />
<rect x="984" y="463" width="1" height="6" fill="#ef5350" />
<rect x="982" y="467" width="5" height="2" fill="#ef5350" />
<rect x="990" y="456" width="1" height="15" fill="#26a69a" />
<rect x="988" y="458" width="5" height="11" fill="#26a69a" />
<rect x="996" y="453" width="1" height="9" fill="#26a69a" />
<rect x="994" y="456" width="5" height="2" fill="#26a69a" />
<rect x="1003" y="454" width="1" height="12" fill="#ef5350" />
<rect x="1001" y="456" width="5" height="8" fill="#ef5350" />
<rect x="1009" y="455" width="1" height="12" fill="#ef5350" />
<rect x="1007" y="463" width="5" height="4" fill="#ef5350" />
<rect x="1015" y="459" width="1" height="8" fill="#26a69a" />
<rect x="1013" y="464" width="5" height="3" fill="#26a69a" />
<rect x="1021" y="459" width="1" height="11" fill="#26a69a" />
<rect x="1019" y="462" width="5" height="2" fill="#26a69a" />
<rect x="1028" y="452" width="1" height="13" fill="#26a69a" />
<rect x="1026" y="452" width="5" height="9" fill="#26a69a" />
<rect x="1034" y="445" width="1" height="11" fill="#ef5350" />
<rect x="1032" y="452" width="5" height="3" fill="#ef5350" />
<rect x="1040" y="448" width="1" height="8" fill="#26a69a" />
<rect x="1038" y="452" width="5" height="3" fill="#26a69a" />
<rect x="1046" y="427" width="1" height="26" fill="#26a69a" />
<rect x="1044" y="446" width="5" height="7" fill="#26a69a" />
<rect x="1053" y="438" width="1" height="16" fill="#ef5350" />
<rect x="1051" y="446" width="5" height="3" fill="#ef5350" />
<rect x="1059" y="430" width="1" height="22" fill="#ef5350" />
<rect x="1057" y="441" width="5" height="9" fill="#ef5350" />
<rect x="1065" y="423" width="1" height="27" fill="#26a69a" />
<rect x="1063" y="423" width="5" height="27" fill="#26a69a" />
<rect x="1071" y="402" width="1" height="21" fill="#26a69a" />
<rect x="1069" y="402" width="5" height="21" fill="#26a69a" />
<rect x="1078" y="388" width="1" height="29" fill="#ef5350" />
<rect x="1076" y="402" width="5" height="13" fill="#ef5350" />
<rect x="1084" y="390" width="1" height="25" fill="#26a69a" />
<rect x="1082" y="393" width="5" height="22" fill="#26a69a" />
<rect x="1090" y="336" width="1" height="52" fill="#26a69a" />
<rect x="1088" y="375" width="5" height="3" fill="#26a69a" />
<rect x="1096" y="350" width="1" height="32" fill="#26a69a" />
<rect x="1094" y="361" width="5" height="15" fill="#26a69a" />
<rect x="1103" y="354" width="1" height="73" fill="#ef5350" />
<rect x="1101" y="361" width="5" height="48" fill="#ef5350" />
<rect x="1109" y="392" width="1" height="27" fill="#ef5350" />
<rect x="1107" y="409" width="5" height="10" fill="#ef5350" />
<rect x="1115" y="404" width="1" height="18" fill="#26a69a" />
<rect x="1113" y="409" width="5" height="9" fill="#26a69a" />
<rect x="1121" y="407" width="1" height="27" fill="#ef5350" />
<rect x="1119" y="409" width="5" height="18" fill="#ef5350" />
<rect x="1128" y="429" width="1" height="22" fill="#ef5350" />
<rect x="1126" y="429" width="5" height="19" fill="#ef5350" />
<rect x="1134" y="433" width="1" height="18" fill="#ef5350" />
<rect x="1132" y="446" width="5" height="5" fill="#ef5350" />
<rect x="1140" y="424" width="1" height="25" fill="#26a69a" />
<rect x="1138" y="424" width="5" height="25" fill="#26a69a" />
<rect x="1146" y="418" width="1" height="9" fill="#26a69a" />
<rect x="1144" y="423" width="5" height="3" fill="#26a69a" />
<rect x="1153" y="397" width="1" height="26" fill="#26a69a" />
<rect x="1151" y="397" width="5" height="26" fill="#26a69a" />
<rect x="1159" y="389" width="1" height="19" fill="#ef5350" />
<rect x="1157" y="394" width="5" height="10" fill="#ef5350" />
<rect x="1165" y="380" width="1" height="23" fill="#26a69a" />
<rect x="1163" y="383" width="5" height="20" fill="#26a69a" />
<rect x="1171" y="376" width="1" height="20" fill="#ef5350" />
<rect x="1169" y="383" width="5" height="10" fill="#ef5350" />
<rect x="1177" y="384" width="1" height="16" fill="#26a69a" />
<rect x="1175" y="389" width="5" height="2" fill="#26a69a" />
<rect x="1184" y="390" width="1" height="28" fill="#ef5350" />
<rect x="1182" y="390" width="5" height="28" fill="#ef5350" />
<rect x="1190" y="402" width="1" height="28" fill="#26a69a" />
<rect x="1188" y="412" width="5" height="4" fill="#26a69a" />
<rect x="1196" y="402" width="1" height="10" fill="#26a69a" />
<rect x="1194" y="408" width="5" height="2" fill="#26a69a" />
<rect x="1202" y="408" width="1" height="22" fill="#ef5350" />
<rect x="1200" y="408" width="5" height="15" fill="#ef5350" />
<text x="1177.9" y="345.1" font-size="16.5" fill="#b71c1c" stroke="#b71c1c" stroke-width="0.55" textLength="104.2" lengthAdjust="spacingAndGlyphs" >1st Resistance</text>
<text x="1197.2" y="440.6" font-size="16.5" fill="#2e7d32" stroke="#2e7d32" stroke-width="0.55" textLength="84.3" lengthAdjust="spacingAndGlyphs" >1st Support</text>
<text x="1192.4" y="470.5" font-size="16.5" fill="#2e7d32" stroke="#2e7d32" stroke-width="0.55" textLength="90" lengthAdjust="spacingAndGlyphs" >2nd Support</text>
</g>
<text x="689.2" y="329.2" font-size="12" fill="#131722" stroke="#131722" stroke-width="0.15" textLength="178.7" lengthAdjust="spacingAndGlyphs" >CFDs on Brent Crude Oil, 1D, TVC</text>
<text x="877.1" y="329.2" font-size="12" fill="#131722" stroke="#131722" stroke-width="0.15" >O</text>
<text x="885.8" y="329.2" font-size="12" fill="#ef5350" stroke="#ef5350" stroke-width="0.15" textLength="33.7" lengthAdjust="spacingAndGlyphs" >112.52</text>
<text x="927.6" y="329.2" font-size="12" fill="#131722" stroke="#131722" stroke-width="0.15" >H</text>
<text x="936.3" y="329.2" font-size="12" fill="#ef5350" stroke="#ef5350" stroke-width="0.15" textLength="34.8" lengthAdjust="spacingAndGlyphs" >112.83</text>
<text x="978.4" y="329.2" font-size="12" fill="#131722" stroke="#131722" stroke-width="0.15" >L</text>
<text x="985" y="329.2" font-size="12" fill="#ef5350" stroke="#ef5350" stroke-width="0.15" textLength="34.7" lengthAdjust="spacingAndGlyphs" >104.45</text>
<text x="1028.2" y="329.2" font-size="12" fill="#131722" stroke="#131722" stroke-width="0.15" >C</text>
<text x="1036.9" y="329.2" font-size="12" fill="#ef5350" stroke="#ef5350" stroke-width="0.15" textLength="33.7" lengthAdjust="spacingAndGlyphs" >107.40</text>
<text x="1077.9" y="329.2" font-size="12" fill="#ef5350" stroke="#ef5350" stroke-width="0.15" textLength="78.1" lengthAdjust="spacingAndGlyphs" >−5.18 (−4.60%)</text>
<text x="689.2" y="345" font-size="12" fill="#131722" stroke="#131722" stroke-width="0.15" textLength="128.2" lengthAdjust="spacingAndGlyphs" >Ichimoku (9, 26, 52, 26)</text>
<g clip-path="url(#aBR)">
<text x="1301.4" y="334.9" font-size="12.5" fill="#131722" stroke="#131722" stroke-width="0.15" textLength="34.7" lengthAdjust="spacingAndGlyphs" >140.00</text>
<text x="1301.4" y="391.45" font-size="12.5" fill="#131722" stroke="#131722" stroke-width="0.15" textLength="34.7" lengthAdjust="spacingAndGlyphs" >120.00</text>
<text x="1301.4" y="448" font-size="12.5" fill="#131722" stroke="#131722" stroke-width="0.15" textLength="34.7" lengthAdjust="spacingAndGlyphs" >100.00</text>
<text x="1301.4" y="504.55" font-size="12.5" fill="#131722" stroke="#131722" stroke-width="0.15" textLength="29.2" lengthAdjust="spacingAndGlyphs" >80.00</text>
<text x="1301.4" y="561.1" font-size="12.5" fill="#131722" stroke="#131722" stroke-width="0.15" textLength="29.2" lengthAdjust="spacingAndGlyphs" >60.00</text>
</g>
<text x="795.7" y="576.2" font-size="12" fill="#131722" stroke="#131722" stroke-width="0.15" textLength="27.4" lengthAdjust="spacingAndGlyphs" font-weight="bold" >2022</text>
<text x="930.5" y="576.2" font-size="12" fill="#131722" stroke="#131722" stroke-width="0.15" textLength="19.6" lengthAdjust="spacingAndGlyphs" >Feb</text>
<text x="1055.2" y="576.2" font-size="12" fill="#131722" stroke="#131722" stroke-width="0.15" textLength="19.2" lengthAdjust="spacingAndGlyphs" >Mar</text>
<text x="1200" y="576.2" font-size="12" fill="#131722" stroke="#131722" stroke-width="0.15" textLength="18.3" lengthAdjust="spacingAndGlyphs" >Apr</text>
<rect x="1291" y="344.15" width="51.6" height="16.5" fill="#b71c1c" rx="2"/>
<rect x="1291" y="344.15" width="3" height="16.5" fill="#b71c1c" />
<text x="1301.6" y="356.8" font-size="12.5" fill="#ffffff" stroke="#ffffff" stroke-width="0.15" textLength="34.7" lengthAdjust="spacingAndGlyphs" >132.14</text>
<rect x="1291" y="415.25" width="51.6" height="16.5" fill="#ef5350" rx="2"/>
<rect x="1291" y="415.25" width="3" height="16.5" fill="#ef5350" />
<text x="1301.6" y="427.9" font-size="12.5" fill="#ffffff" stroke="#ffffff" stroke-width="0.15" textLength="34.7" lengthAdjust="spacingAndGlyphs" >107.40</text>
<rect x="1291" y="441.25" width="45.8" height="16.5" fill="#1b5e20" rx="2"/>
<rect x="1291" y="441.25" width="3" height="16.5" fill="#1b5e20" />
<text x="1301.6" y="453.9" font-size="12.5" fill="#ffffff" stroke="#ffffff" stroke-width="0.15" textLength="29.2" lengthAdjust="spacingAndGlyphs" >98.15</text>
<rect x="1291" y="470.15" width="45.8" height="16.5" fill="#1b5e20" rx="2"/>
<rect x="1291" y="470.15" width="3" height="16.5" fill="#1b5e20" />
<text x="1301.6" y="482.8" font-size="12.5" fill="#ffffff" stroke="#ffffff" stroke-width="0.15" textLength="29.2" lengthAdjust="spacingAndGlyphs" >87.85</text>
<rect x="634.5" y="34" width="27" height="17" rx="3.5" fill="#ffffff" stroke="#d1d4dc" stroke-width="1"/>
<text x="648" y="46.8" font-size="12" fill="#131722" stroke="#131722" stroke-width="0.15" textLength="20" lengthAdjust="spacingAndGlyphs" text-anchor="middle" >USD</text>
<rect x="1300" y="34" width="26" height="17" rx="3.5" fill="#ffffff" stroke="#d1d4dc" stroke-width="1"/>
<text x="1313" y="46.8" font-size="12" fill="#131722" stroke="#131722" stroke-width="0.15" textLength="20" lengthAdjust="spacingAndGlyphs" text-anchor="middle" >USD</text>
<rect x="1306" y="317.5" width="26" height="17.6" rx="3.5" fill="#ffffff" stroke="#d1d4dc" stroke-width="1"/>
<text x="1319" y="330.6" font-size="12" fill="#131722" stroke="#131722" stroke-width="0.15" textLength="20" lengthAdjust="spacingAndGlyphs" text-anchor="middle" >USD</text>
<text x="10.6" y="19" font-size="12.6" fill="#131722" stroke="#131722" stroke-width="0.15" textLength="352.9" lengthAdjust="spacingAndGlyphs" >ICmarkets published on TradingView.com, Apr 01, 2022 02:05 UTC</text>
<g fill="#131722"><rect x="10" y="599.1" width="7.4" height="3.3"/><rect x="14" y="599.1" width="3.4" height="9.5"/><circle cx="20.6" cy="600.9" r="1.6"/><polygon points="23.5,599.1 29.6,599.1 25.9,608.6 20.9,608.6"/></g>
<text x="33.3" y="608.6" font-size="12.8" fill="#131722" stroke="#131722" stroke-width="0.15" textLength="69.8" lengthAdjust="spacingAndGlyphs" >TradingView</text>
</svg></body></html>
